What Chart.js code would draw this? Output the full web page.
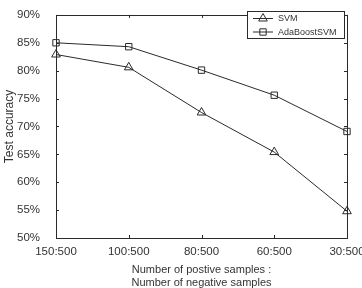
<!DOCTYPE html>
<html>
<head>
<meta charset="utf-8">
<script src="https://cdn.jsdelivr.net/npm/chart.js@4"></script>
<style>
  html, body { margin: 0; padding: 0; background: #fff; }
  #wrap { width: 362px; height: 288px; }
</style>
</head>
<body>
<div id="wrap"><canvas id="accChart" width="362" height="288"></canvas></div>
<script>
const categories = ['150:500', '100:500', '80:500', '60:500', '30:500'];
const svmValues = [82.9, 80.6, 72.5, 65.4, 54.8];
const adaValues = [85.0, 84.3, 80.1, 75.6, 69.1];
const yTicks = [50, 55, 60, 65, 70, 75, 80, 85, 90];
const xTitle = ['Number of postive samples :', 'Number of negative samples'];
const yTitle = 'Test accuracy';

const ink = '#2a2a2a';
const textInk = '#333';
const font = "'Liberation Sans', Arial, sans-serif";

// matlab-style frame: box, inward ticks, x labels, titles, legend
const framePlugin = {
    id: 'frame',
    afterDraw(chart) {
        const { ctx, chartArea: a, scales } = chart;
        const xs = scales.x, ys = scales.y;
        ctx.save();
        ctx.strokeStyle = ink;
        ctx.lineWidth = 1;
        ctx.strokeRect(Math.round(a.left) + 0.5, Math.round(a.top) + 0.5,
            Math.round(a.right - a.left), Math.round(a.bottom - a.top));

        const tl = 3;
        ctx.beginPath();
        categories.forEach((c, i) => {
            const px = Math.round(xs.getPixelForValue(i)) + 0.5;
            ctx.moveTo(px, a.bottom); ctx.lineTo(px, a.bottom - tl);
            ctx.moveTo(px, a.top); ctx.lineTo(px, a.top + tl);
        });
        yTicks.forEach(v => {
            const py = Math.round(ys.getPixelForValue(v)) + 0.5;
            ctx.moveTo(a.left, py); ctx.lineTo(a.left + tl, py);
            ctx.moveTo(a.right, py); ctx.lineTo(a.right - tl, py);
        });
        ctx.stroke();

        // x tick labels (last one runs off the canvas like the original)
        ctx.fillStyle = textInk;
        ctx.font = '11.5px ' + font;
        ctx.textAlign = 'center';
        ctx.textBaseline = 'middle';
        categories.forEach((c, i) => {
            ctx.fillText(c, xs.getPixelForValue(i), a.bottom + 14);
        });

        // axis titles
        ctx.font = '11px ' + font;
        const cx = (a.left + a.right) / 2;
        ctx.fillText(xTitle[0], cx, a.bottom + 32);
        ctx.fillText(xTitle[1], cx, a.bottom + 45);
        ctx.save();
        ctx.font = '12px ' + font;
        ctx.translate(10, (a.top + a.bottom) / 2);
        ctx.rotate(-Math.PI / 2);
        ctx.fillText(yTitle, 0, 0);
        ctx.restore();

        // legend
        const lx = 247, ly = 11, lw = 97, lh = 27;
        ctx.fillStyle = '#fff';
        ctx.fillRect(lx, ly, lw, lh);
        ctx.strokeRect(lx + 0.5, ly + 0.5, lw, lh);
        ctx.font = '9px ' + font;
        ctx.textAlign = 'left';
        chart.data.datasets.forEach((ds, i) => {
            const y = ly + 7.5 + i * 13.5;
            ctx.beginPath();
            ctx.moveTo(253, y); ctx.lineTo(273, y);
            ctx.stroke();
            ctx.fillStyle = 'rgba(0,0,0,0)';
            Chart.helpers.drawPoint(ctx, {
                pointStyle: ds.pointStyle, radius: ds.pointRadius, borderWidth: 1
            }, 263, y);
            ctx.fillStyle = textInk;
            ctx.fillText(ds.label, 278, y + 0.5);
        });
        ctx.restore();
    }
};

new Chart(document.getElementById('accChart'), {
    type: 'line',
    data: {
        labels: categories,
        datasets: [{
            label: 'SVM',
            data: svmValues,
            borderColor: ink,
            borderWidth: 1,
            pointStyle: 'triangle',
            pointRadius: 5,
            pointBorderColor: ink,
            pointBackgroundColor: 'rgba(0,0,0,0)',
            pointBorderWidth: 1,
            tension: 0
        }, {
            label: 'AdaBoostSVM',
            data: adaValues,
            borderColor: ink,
            borderWidth: 1,
            pointStyle: 'rect',
            pointRadius: 4.5,
            pointBorderColor: ink,
            pointBackgroundColor: 'rgba(0,0,0,0)',
            pointBorderWidth: 1,
            tension: 0
        }]
    },
    options: {
        responsive: false,
        animation: false,
        layout: { padding: { top: 7, right: 15, left: 0, bottom: 0 } },
        plugins: {
            legend: { display: false },
            tooltip: { enabled: false }
        },
        scales: {
            x: {
                offset: false,
                grid: { display: false },
                border: { display: false },
                ticks: { display: false },
                afterFit(scale) { scale.height = 50; }
            },
            y: {
                min: 50,
                max: 90,
                grid: { display: false },
                border: { display: false },
                afterBuildTicks(scale) {
                    scale.ticks = yTicks.map(v => ({ value: v }));
                },
                ticks: {
                    color: textInk,
                    padding: 8,
                    font: { size: 11.5, family: font },
                    callback: v => v + '%'
                },
                afterFit(scale) { scale.width = 56; }
            }
        }
    },
    plugins: [framePlugin]
});
</script>
</body>
</html>
